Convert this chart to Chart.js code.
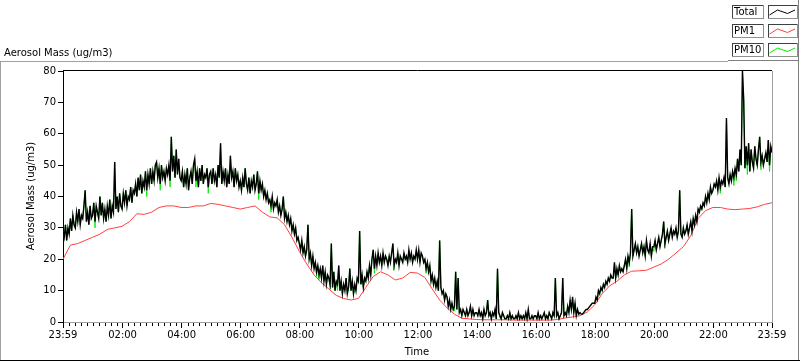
<!DOCTYPE html>
<html>
<head>
<meta charset="utf-8">
<script src="https://cdn.jsdelivr.net/npm/chart.js@4.4.1/dist/chart.umd.min.js"></script>
<style>
  html, body { margin: 0; padding: 0; background: #fff; }
  #wrap { width: 800px; height: 361px; }
</style>
</head>
<body>
<div id="wrap"><canvas id="aerosol" width="800" height="361"></canvas></div>
<script>
// x axis: minutes after midnight, 23:59 of the day before is -1
const timeTicks = [-1, 120, 240, 360, 480, 600, 720, 840, 960, 1080, 1200, 1320, 1439];
const timeLabels = ['23:59', '02:00', '04:00', '06:00', '08:00', '10:00', '12:00',
                    '14:00', '16:00', '18:00', '20:00', '22:00', '23:59'];
const yTicks = [0, 10, 20, 30, 40, 50, 60, 70, 80];

const seriesNames = ['Total', 'PM1', 'PM10'];
const seriesColors = ['#000000', 'rgb(255,64,64)', 'rgb(0,235,0)'];

// Total and PM10 read every 2.5 minutes (one row = one hour), PM1 every 15 minutes
const totalStep = 2.5;
const pm1Step = 15;

const total = [
  29,27,31,26,30,28,33,29,34,31,30,35,32,36,31,34,33,37,42,32,35,31,37,33,
  34,38,32,37,35,33,40,34,38,33,36,32,37,34,39,33,37,35,51,36,40,35,41,37,
  36,41,38,42,37,40,39,43,38,42,41,44,40,46,42,47,41,45,43,48,42,47,44,49,
  44,48,45,50,51,46,49,44,50,46,48,45,49,47,50,45,59,48,53,46,55,47,52,46,
  45,48,43,47,44,49,42,46,48,44,50,52,45,48,43,49,45,50,44,47,46,49,43,47,
  48,44,49,45,47,43,50,46,57,44,48,45,49,43,47,44,53,46,48,43,49,45,47,43,
  45,42,46,43,49,44,42,46,41,45,43,47,42,44,48,41,45,42,44,40,42,39,41,38,
  39,37,40,36,38,37,39,35,37,34,36,40,33,35,32,34,31,33,29,31,28,30,26,27,
  25,23,26,22,24,21,23,31,20,22,18,21,17,19,16,18,15,17,14,18,13,16,12,15,
  14,12,25,11,16,10,13,12,18,10,13,9,12,10,14,9,11,17,10,13,9,12,10,14,
  13,29,12,15,11,14,13,16,14,18,15,20,23,17,21,18,22,19,21,18,22,19,21,20,
  18,21,19,22,25,18,20,19,22,18,21,20,19,22,20,21,19,23,20,22,19,21,20,23,
  20,23,19,22,21,19,20,17,19,16,18,13,15,12,14,11,13,10,26,11,9,10,7,9,
  8,5,7,4,6,4,5,16,4,14,3,4,2,4,3,2,4,2,3,5,2,4,2,3,
  3,2,4,2,3,1,4,2,3,7,2,3,1,3,2,4,1,17,3,2,1,3,2,1,
  1,2,1,3,1,2,1,1,2,1,3,1,2,1,2,1,3,1,4,1,1,2,1,2,
  2,1,3,1,2,1,2,3,1,2,1,3,2,1,3,2,14,2,3,1,2,3,14,2,
  3,2,5,3,7,4,8,3,6,2,4,2.5,3,2.5,2.5,3,3.5,4,4,4.5,5,5.5,6,6,
  6,8,7,10,9,11,10,12,11,13,12,14,13,15,14,14,19,14,17,15,18,16,17,16,
  18,20,17,21,19,22,36,21,23,25,22,24,21,23,25,22,24,21,26,23,22,25,21,24,
  24,26,23,25,27,24,26,28,32,25,27,29,26,28,30,27,29,28,30,27,29,42,28,27,
  30,28,29,31,28,30,32,29,33,31,34,32,36,35,37,36,38,37,40,38,41,39,43,41,
  42,44,43,45,42,46,43,45,44,46,43,65,46,44,47,45,48,46,49,47,52,48,55,50,
  80,71,49,56,50,57,48,55,51,49,56,52,50,55,59,51,53,50,52,54,51,58,50,56,54
];

const pm10 = [
  29,27,31,26,30,28,33,29,34,31,30,35,32,36,31,34,33,37,42,32,35,31,37,33,
  34,38,30,37,35,33,40,34,38,33,36,32,37,34,39,33,37,35,51,36,40,35,41,37,
  36,41,38,42,37,40,39,43,38,42,41,44,40,46,42,47,41,45,43,48,40,47,44,49,
  44,48,45,50,51,46,49,42,50,46,48,45,49,47,50,43,59,48,53,46,55,47,52,46,
  45,48,43,47,44,49,42,46,48,44,50,52,43,48,43,49,45,50,44,47,46,49,41,47,
  48,44,49,45,47,43,50,46,57,44,48,45,49,43,47,44,53,46,48,43,49,45,47,43,
  45,42,46,43,49,44,42,46,41,45,43,47,42,44,48,39,45,42,44,40,42,39,41,38,
  39,35,40,36,38,37,39,35,37,34,36,40,33,35,32,34,31,33,29,31,28,30,26,27,
  25,23,26,22,24,21,23,31,20,22,18,21,17,19,14.5,18,13.5,17,14,18,13,16,12,15,
  14,10.5,25,11,16,10,13,10,18,10,13,9,12,10,14,9,11,17,10,13,9,10,10,14,
  13,29,12,15,11,14,13,16,14,18,15,20,23,15.5,21,18,22,19,21,18,22,19,21,20,
  18,21,19,22,25,16.5,20,19,22,18,21,20,19,22,20,21,19,23,20,22,19,21,20,23,
  20,23,19,22,21,19,20,15.5,19,16,18,13,15,12,12,11,13,10,26,11,9,10,7,9,
  8,5,7,4,6,4,3.5,16,4,14,3,4,2,4,3,2,4,2,3,5,2,4,2,3,
  3,2,4,2,3,1,4,2,3,7,2,3,1,3,2,4,1,17,3,1.2,1,3,2,1,
  1,2,1,3,1,2,1,1,2,1,3,1,2,1,2,1,3,1,4,1,1,2,1,2,
  2,1,3,1,2,1,2,3,1,2,1,3,2,1,3,2,14,2,3,1,2,3,14,2,
  3,2,5,3,7,4,6,3,6,2,4,2.5,3,2.5,2.5,3,3.5,4,4,4.5,5,5.5,6,6,
  6,8,7,10,9,11,10,12,11,13,12,14,13,15,14,14,19,14,17,15,18,16,17,16,
  18,20,17,21,17.5,22,36,21,23,25,22,24,21,23,25,22,24,21,26,23,22,25,21,24,
  22.5,26,23,25,27,24,26,28,32,23.5,27,29,26,28,30,27,29,28,30,27,29,42,28,27,
  30,28,29,31,28,30,32,29,33,31,34,32,36,35,37,36,38,37,40,38,41,39,43,41,
  42,44,43,45,42,46,41,45,44,46,43,65,46,44,47,45,48,43.5,49,45,52,48,55,50,
  80,71,49,56,47,57,48,55,51,49,56,52,50,55,59,48.5,53,50,52,54,51,58,48,56,54
];

const pm1 = [
  20,24.5,25,26,27,28,29.5,30,30.5,32,
  34.5,34.3,35,36.5,37,37,36.5,36.5,37,37,
  37.8,37.5,37,36.5,36,36.5,37,35,33.5,33.2,
  31,27,22.5,18.5,15,12.5,10.5,8.5,7.5,7,
  7.5,11,14.5,16,15,13.4,14,15.8,15.6,14.2,
  10.5,7,4.5,2.5,1.2,1,0.8,0.7,0.7,0.7,
  0.7,0.6,0.6,0.6,0.6,0.6,0.6,0.8,1.3,1.6,
  2,3.2,5.5,9,11.5,13,15,16.2,16.3,16.5,
  17.5,18.5,20,22,24,27.5,33,35.5,36.5,36.5,
  36,35.8,36,36.2,36.7,37.5,38
];

function toPoints(values, step) {
  return values.map((v, i) => ({ x: -1 + i * step, y: v }));
}

const FONT = 'DejaVu Sans';
Chart.defaults.font.family = FONT;
Chart.defaults.font.size = 10;
Chart.defaults.color = '#000';

function hline(ctx, x1, x2, y, color) {
  ctx.strokeStyle = color;
  ctx.beginPath();
  ctx.moveTo(x1, y);
  ctx.lineTo(x2, y);
  ctx.stroke();
}
function vline(ctx, x, y1, y2, color) {
  ctx.strokeStyle = color;
  ctx.beginPath();
  ctx.moveTo(x, y1);
  ctx.lineTo(x, y2);
  ctx.stroke();
}

// frame, minor ticks, axis names and the boxed legend
const decor = {
  id: 'decor',
  afterDraw(chart) {
    const ctx = chart.ctx;
    const a = chart.chartArea;
    const x = chart.scales.x;
    ctx.save();
    ctx.lineWidth = 1;

    // outer panel
    hline(ctx, 0, 728, 61.5, '#a0a0a0');
    hline(ctx, 728, 799, 60.5, '#808080');
    vline(ctx, 0.5, 61, 361, '#a0a0a0');
    vline(ctx, 798.5, 0, 361, '#808080');
    hline(ctx, 0, 800, 360.5, '#000');

    // plot frame top and right
    hline(ctx, a.left, a.right, Math.round(a.top) - 0.5, '#000');
    vline(ctx, Math.round(a.right) + 0.5, a.top, a.bottom, '#a0a0a0');

    // minor ticks every 12 minutes
    for (let m = 12; m < 1439; m += 12) {
      if (m % 120 === 0) continue;
      const px = Math.round(x.getPixelForValue(m)) + 0.5;
      vline(ctx, px, a.bottom + 1, a.bottom + 4, '#000');
    }

    ctx.fillStyle = '#000';
    ctx.font = '10px ' + FONT;
    ctx.textAlign = 'left';
    ctx.textBaseline = 'alphabetic';
    ctx.fillText('Aerosol Mass (ug/m3)', 4, 56);

    ctx.textAlign = 'center';
    ctx.textBaseline = 'middle';
    ctx.fillText('Time', 417, 352);
    ctx.save();
    ctx.translate(31, 196);
    ctx.rotate(-Math.PI / 2);
    ctx.fillText('Aerosol Mass (ug/m3)', 0, 0);
    ctx.restore();

    // legend boxes
    const rows = [5, 24, 43];
    const zig = [[1.5, 10], [9.5, 5], [19.5, 8.5], [27, 5]];
    rows.forEach((top, i) => {
      const boxes = [[732, 31], [768, 29]];
      boxes.forEach(([bx, bw]) => {
        ctx.fillStyle = '#fff';
        ctx.fillRect(bx, top, bw, 13);
        hline(ctx, bx, bx + bw, top + 0.5, '#404040');
        vline(ctx, bx + 0.5, top, top + 13, '#404040');
        hline(ctx, bx, bx + bw + 1, top + 13.5, '#909090');
        vline(ctx, bx + bw + 0.5, top, top + 14, '#909090');
      });
      ctx.fillStyle = '#000';
      ctx.textAlign = 'left';
      ctx.textBaseline = 'middle';
      ctx.fillText(seriesNames[i], 734, top + 7.5);
      ctx.strokeStyle = seriesColors[i];
      ctx.beginPath();
      zig.forEach(([zx, zy], k) => {
        if (k === 0) ctx.moveTo(768 + zx, top + zy);
        else ctx.lineTo(768 + zx, top + zy);
      });
      ctx.stroke();
    });

    ctx.restore();
  }
};

new Chart('aerosol', {
  type: 'line',
  data: {
    datasets: [
      { label: seriesNames[0], data: toPoints(total, totalStep), borderColor: seriesColors[0], borderWidth: 1.4 },
      { label: seriesNames[1], data: toPoints(pm1, pm1Step), borderColor: seriesColors[1], borderWidth: 1 },
      { label: seriesNames[2], data: toPoints(pm10, totalStep), borderColor: seriesColors[2], borderWidth: 0.9 }
    ]
  },
  options: {
    responsive: false,
    animation: false,
    events: [],
    layout: { padding: { left: 0, right: 28, top: 71, bottom: 0 } },
    elements: {
      line: { tension: 0 },
      point: { radius: 0 }
    },
    plugins: {
      legend: { display: false },
      tooltip: { enabled: false },
      title: { display: false }
    },
    scales: {
      x: {
        type: 'linear',
        min: -1,
        max: 1439,
        afterBuildTicks: (axis) => { axis.ticks = timeTicks.map(v => ({ value: v })); },
        afterFit: (axis) => { axis.height = 39; },
        ticks: {
          autoSkip: false,
          maxRotation: 0,
          minRotation: 0,
          padding: 1,
          callback: (value, index) => timeLabels[index]
        },
        grid: { drawOnChartArea: false, drawTicks: true, tickLength: 6, color: '#000' },
        border: { display: true, color: '#a0a0a0' }
      },
      y: {
        min: 0,
        max: 80,
        afterBuildTicks: (axis) => { axis.ticks = yTicks.map(v => ({ value: v })); },
        afterFit: (axis) => { axis.width = 63; },
        ticks: { padding: 2 },
        grid: { drawOnChartArea: false, drawTicks: true, tickLength: 5, color: '#000' },
        border: { display: true, color: '#000' }
      }
    }
  },
  plugins: [decor]
});
</script>
</body>
</html>
